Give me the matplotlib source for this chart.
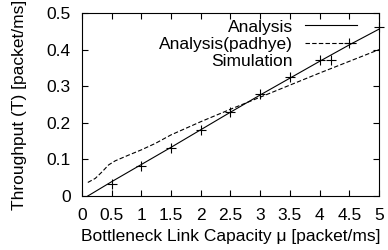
import matplotlib
matplotlib.use("Agg")
import matplotlib.pyplot as plt

plt.rcParams['font.family'] = ['Liberation Sans', 'DejaVu Sans']

# Analysis (solid)
ana_x = [0.1, 0.5, 1.0, 1.5, 2.0, 2.5, 3.0, 3.5, 4.0, 4.5, 5.0]
ana_y = [0.0, 0.039, 0.086, 0.133, 0.181, 0.229, 0.276, 0.322, 0.368, 0.413, 0.456]

# Analysis (padhye) (dashed)
pad_x = [0.1, 0.225, 0.34, 0.45, 0.56, 0.79, 1.0, 1.24, 1.5, 2.0, 2.5, 3.0, 3.5, 4.0, 4.5, 5.0]
pad_y = [0.037, 0.048, 0.066, 0.085, 0.096, 0.112, 0.126, 0.144, 0.167, 0.203, 0.237, 0.27,
         0.303, 0.336, 0.368, 0.40]

# Simulation (points)
sim_x = [0.5, 1.0, 1.5, 2.0, 2.5, 3.0, 3.5, 4.0, 4.5, 5.0]
sim_y = [0.033, 0.083, 0.132, 0.181, 0.230, 0.278, 0.325, 0.372, 0.418, 0.462]

xticks = [0, 0.5, 1, 1.5, 2, 2.5, 3, 3.5, 4, 4.5, 5]
xticklabels = ["0", "0.5", "1", "1.5", "2", "2.5", "3", "3.5", "4", "4.5", "5"]
yticks = [0, 0.1, 0.2, 0.3, 0.4, 0.5]
yticklabels = ["0", "0.1", "0.2", "0.3", "0.4", "0.5"]

FS = 12.5

fig = plt.figure(figsize=(3.88, 2.5), dpi=100)
ax = fig.add_axes([0.211, 0.216, 0.766, 0.732])

ax.plot(ana_x, ana_y, color='black', lw=0.8, label='Analysis')
ax.plot(pad_x, pad_y, color='black', lw=0.8, dashes=(4, 2), label='Analysis(padhye)')
ax.plot(sim_x, sim_y, linestyle='none', marker='+', color='black', markersize=7,
        markeredgewidth=0.8, label='Simulation', clip_on=False)

ax.set_xlim(0, 5)
ax.set_ylim(0, 0.5)
ax.set_xticks(xticks)
ax.set_xticklabels(xticklabels)
ax.set_yticks(yticks)
ax.set_yticklabels(yticklabels)
ax.tick_params(direction='in', top=True, right=True, length=4, width=0.8,
               labelsize=FS)
ax.tick_params(axis='x', pad=9)
ax.tick_params(axis='y', pad=8)
for s in ax.spines.values():
    s.set_linewidth(0.8)

ax.set_xlabel('Bottleneck Link Capacity \u03bc [packet/ms]', fontsize=FS, labelpad=4)
ax.set_ylabel('Throughput (T) [packet/ms]', fontsize=FS, labelpad=14)

leg = ax.legend(loc='upper right', frameon=False, markerfirst=False, fontsize=FS,
                handlelength=3.0, labelspacing=0.12, borderaxespad=0, borderpad=0,
                handletextpad=0.7, numpoints=1, bbox_to_anchor=(0.926, 0.965))

fig.savefig('out.png', dpi=100)
